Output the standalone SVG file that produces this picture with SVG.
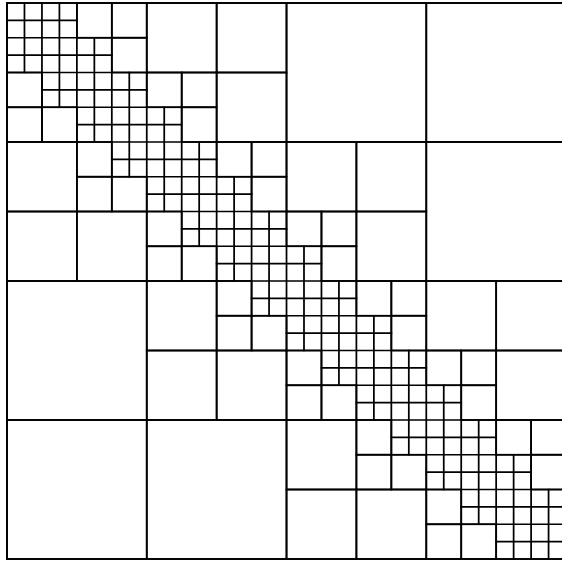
<svg xmlns="http://www.w3.org/2000/svg" width="562" height="561" viewBox="0 0 562 561">
<style>
.g{fill:none;stroke:#000;stroke-width:0.1;stroke-linecap:square}
</style>
<rect width="562" height="561" fill="#fff"/>
<g class="g" transform="translate(7,3) scale(17.47,17.375)">
<g id="level8">
<rect x="16" y="0" width="8" height="8"/><rect x="24" y="0" width="8" height="8"/><rect x="24" y="8" width="8" height="8"/>
<rect x="0" y="16" width="8" height="8"/><rect x="0" y="24" width="8" height="8"/><rect x="8" y="24" width="8" height="8"/>
</g>
<g id="level4">
<rect x="8" y="0" width="4" height="4"/><rect x="12" y="0" width="4" height="4"/>
<rect x="12" y="4" width="4" height="4"/>
<rect x="0" y="8" width="4" height="4"/><rect x="16" y="8" width="4" height="4"/><rect x="20" y="8" width="4" height="4"/>
<rect x="0" y="12" width="4" height="4"/><rect x="4" y="12" width="4" height="4"/><rect x="20" y="12" width="4" height="4"/>
<rect x="8" y="16" width="4" height="4"/><rect x="24" y="16" width="4" height="4"/><rect x="28" y="16" width="4" height="4"/>
<rect x="8" y="20" width="4" height="4"/><rect x="12" y="20" width="4" height="4"/><rect x="28" y="20" width="4" height="4"/>
<rect x="16" y="24" width="4" height="4"/>
<rect x="16" y="28" width="4" height="4"/><rect x="20" y="28" width="4" height="4"/>
</g>
<g id="level2">
<rect x="4" y="0" width="2" height="2"/><rect x="6" y="0" width="2" height="2"/>
<rect x="6" y="2" width="2" height="2"/>
<rect x="0" y="4" width="2" height="2"/><rect x="8" y="4" width="2" height="2"/><rect x="10" y="4" width="2" height="2"/>
<rect x="0" y="6" width="2" height="2"/><rect x="2" y="6" width="2" height="2"/><rect x="10" y="6" width="2" height="2"/>
<rect x="4" y="8" width="2" height="2"/><rect x="12" y="8" width="2" height="2"/><rect x="14" y="8" width="2" height="2"/>
<rect x="4" y="10" width="2" height="2"/><rect x="6" y="10" width="2" height="2"/><rect x="14" y="10" width="2" height="2"/>
<rect x="8" y="12" width="2" height="2"/><rect x="16" y="12" width="2" height="2"/><rect x="18" y="12" width="2" height="2"/>
<rect x="8" y="14" width="2" height="2"/><rect x="10" y="14" width="2" height="2"/><rect x="18" y="14" width="2" height="2"/>
<rect x="12" y="16" width="2" height="2"/><rect x="20" y="16" width="2" height="2"/><rect x="22" y="16" width="2" height="2"/>
<rect x="12" y="18" width="2" height="2"/><rect x="14" y="18" width="2" height="2"/><rect x="22" y="18" width="2" height="2"/>
<rect x="16" y="20" width="2" height="2"/><rect x="24" y="20" width="2" height="2"/><rect x="26" y="20" width="2" height="2"/>
<rect x="16" y="22" width="2" height="2"/><rect x="18" y="22" width="2" height="2"/><rect x="26" y="22" width="2" height="2"/>
<rect x="20" y="24" width="2" height="2"/><rect x="28" y="24" width="2" height="2"/><rect x="30" y="24" width="2" height="2"/>
<rect x="20" y="26" width="2" height="2"/><rect x="22" y="26" width="2" height="2"/><rect x="30" y="26" width="2" height="2"/>
<rect x="24" y="28" width="2" height="2"/>
<rect x="24" y="30" width="2" height="2"/><rect x="26" y="30" width="2" height="2"/>
</g>
<g id="level1">
<path d="M0 0H4M0 1H4M0 2H6M0 3H6M0 4H8M2 5H8M2 6H10M4 7H10M4 8H12M6 9H12M6 10H14M8 11H14M8 12H16M10 13H16M10 14H18M12 15H18M12 16H20M14 17H20M14 18H22M16 19H22M16 20H24M18 21H24M18 22H26M20 23H26M20 24H28M22 25H28M22 26H30M24 27H30M24 28H32M26 29H32M26 30H32M28 31H32M28 32H32"/>
<path d="M0 0V4M1 0V4M2 0V6M3 0V6M4 0V8M5 2V8M6 2V10M7 4V10M8 4V12M9 6V12M10 6V14M11 8V14M12 8V16M13 10V16M14 10V18M15 12V18M16 12V20M17 14V20M18 14V22M19 16V22M20 16V24M21 18V24M22 18V26M23 20V26M24 20V28M25 22V28M26 22V30M27 24V30M28 24V32M29 26V32M30 26V32M31 28V32M32 28V32"/>
</g>
<rect id="border" x="0" y="0" width="32" height="32"/>
</g>
</svg>
